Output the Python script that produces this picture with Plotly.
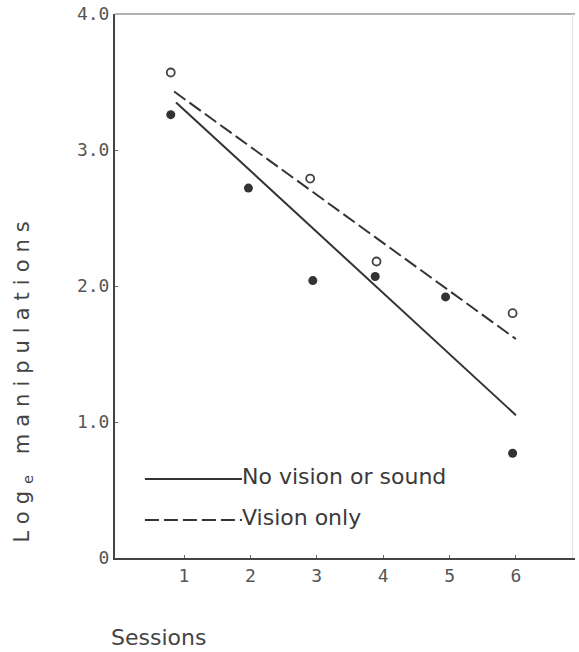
import plotly.graph_objects as go

# Data
sessions_filled = [0.8, 1.97, 2.94, 3.88, 4.94, 5.95]
no_vision_sound = [3.26, 2.72, 2.04, 2.07, 1.92, 0.77]

sessions_open = [0.8, 2.9, 3.9, 5.95]
vision_only = [3.57, 2.79, 2.18, 1.80]

fit_x = [0.88, 6.0]
fit_no_vision_sound = [3.35, 1.05]
fit_x_dashed = [0.85, 6.0]
fit_vision_only = [3.43, 1.61]

x_ticks = [1, 2, 3, 4, 5, 6]
x_ticklabels = ["1", "2", "3", "4", "5", "6"]
y_ticks = [0, 1, 2, 3, 4]
y_ticklabels = ["0", "1.0", "2.0", "3.0", "4.0"]

legend_labels = ["No vision or sound", "Vision only"]

ink = "#333333"
font_main = "DejaVu Sans"
font_ticks = "DejaVu Sans Mono"

fig = go.Figure()

fig.add_trace(go.Scatter(
    x=fit_x, y=fit_no_vision_sound, mode="lines",
    line=dict(color=ink, width=2), showlegend=False))
fig.add_trace(go.Scatter(
    x=fit_x_dashed, y=fit_vision_only, mode="lines",
    line=dict(color=ink, width=2, dash="14px,5px"), showlegend=False))
fig.add_trace(go.Scatter(
    x=sessions_filled, y=no_vision_sound, mode="markers",
    marker=dict(color=ink, size=9, line=dict(width=0)), showlegend=False))
fig.add_trace(go.Scatter(
    x=sessions_open, y=vision_only, mode="markers",
    marker=dict(color="white", size=8, line=dict(color="#444444", width=1.8)),
    showlegend=False))

# Legend drawn manually (long line samples)
leg_x0, leg_x1 = 0.065, 0.276
leg_y = [0.145, 0.070]
dashes = ["solid", "14px,5px"]
shapes = []
annotations = []
for lbl, yy, dsh in zip(legend_labels, leg_y, dashes):
    shapes.append(dict(type="line", xref="paper", yref="paper",
                       x0=leg_x0, x1=leg_x1, y0=yy, y1=yy,
                       line=dict(color=ink, width=2, dash=dsh)))
    annotations.append(dict(xref="paper", yref="paper", x=leg_x1 - 0.004, y=yy + 0.004,
                            xanchor="left", yanchor="middle", showarrow=False,
                            text=lbl, font=dict(family=font_main, size=22, color="#3a3a3a")))

# frame top and right
shapes.append(dict(type="line", xref="paper", yref="paper", x0=0, x1=1, y0=1, y1=1,
                   line=dict(color="#999999", width=1.5)))
shapes.append(dict(type="line", xref="paper", yref="paper", x0=0.995, x1=0.995, y0=0, y1=1,
                   line=dict(color="#dddddd", width=1)))

# axis titles placed as in the reference
annotations.append(dict(xref="paper", yref="paper", x=-0.012, y=-0.147,
                        xanchor="left", yanchor="middle", showarrow=False,
                        text="Sessions", font=dict(family=font_main, size=22, color="#444444")))
annotations.append(dict(xref="paper", yref="paper", x=-0.2, y=0.33,
                        xanchor="center", yanchor="middle", showarrow=False, textangle=-90,
                        text='<span style="letter-spacing:7px">Log<sub>e</sub> manipulations</span>',
                        font=dict(family=font_main, size=21, color="#444444")))

fig.update_layout(
    width=579, height=652,
    margin=dict(l=115, r=4, t=14, b=94),
    plot_bgcolor="white", paper_bgcolor="white",
    shapes=shapes, annotations=annotations,
    showlegend=False,
    xaxis=dict(range=[-0.04, 6.89], tickvals=x_ticks, ticktext=x_ticklabels,
               showgrid=False, zeroline=False, showline=True, linecolor="#444444",
               linewidth=2, ticks="inside", ticklen=3, tickcolor="#666666",
               tickfont=dict(family=font_ticks, size=18, color="#555555")),
    yaxis=dict(range=[0, 4.0], tickvals=y_ticks, ticktext=y_ticklabels,
               showgrid=False, zeroline=False, showline=True, linecolor="#444444",
               linewidth=2, ticks="inside", ticklen=3, tickcolor="#666666",
               tickfont=dict(family=font_ticks, size=18, color="#555555")),
)

fig.write_html("out.html", config={"displayModeBar": False},
               post_script="document.body.style.margin='0px';")
